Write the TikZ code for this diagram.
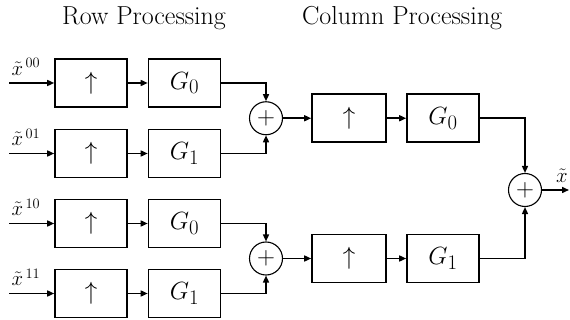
\documentclass[tikz,border=0pt]{standalone}
\usepackage{fontspec}
\usetikzlibrary{arrows.meta}
\begin{document}
\begin{tikzpicture}[x=1pt,y=-1pt,
  blk/.style={draw,line width=1.6pt,minimum width=72pt,minimum height=48pt,inner sep=0pt},
  summer/.style={draw,circle,line width=1.1pt,minimum size=33pt,inner sep=0pt,
    font=\fontsize{25}{30}\selectfont},
  sig/.style={line width=1.5pt,-{Triangle[length=7pt,width=6pt]}},
  ttl/.style={font=\fontsize{26}{30}\selectfont},
  gain/.style={font=\fontsize{29}{34}\selectfont},
  upop/.style={font=\fontsize{26}{30}\selectfont},
  sigl/.style={font=\fontsize{21}{25}\selectfont,inner sep=0pt}]
\useasboundingbox (0,0) rectangle (570,320);

% titles
\node[ttl] (trow) at (144,18) {Row Processing};
\node[ttl] (tcol) at (402,18) {Column Processing};

% row processing: four branches
\foreach \i/\y/\g/\lab in {1/83/0/00, 2/153.5/1/01, 3/223.5/0/10, 4/293.5/1/11}{
  \coordinate (in\i) at (9,\y);
  \node[blk,upop] (u\i) at (91,\y) {$\uparrow$};
  \node[blk,gain] (g\i) at (184.5,\y) {$G_{\g}$};
  \node[sigl] (l\i) at (26,\y-16) {$\tilde{x}^{\,\lab}$};
  \draw[sig] (in\i) -- (u\i.west);
  \draw[sig] (u\i.east) -- (g\i.west);
}

% row summers
\node[summer] (s1) at (266,118.25) {$+$};
\node[summer] (s2) at (266,258.5) {$+$};
\draw[sig] (g1.east) -| (s1.north);
\draw[sig] (g2.east) -| (s1.south);
\draw[sig] (g3.east) -| (s2.north);
\draw[sig] (g4.east) -| (s2.south);

% column processing
\node[blk,upop,minimum width=74pt] (cu1) at (349,118.25) {$\uparrow$};
\node[blk,gain] (cg1) at (443,118.25) {$G_0$};
\node[blk,upop,minimum width=74pt] (cu2) at (349,258.5) {$\uparrow$};
\node[blk,gain] (cg2) at (443,258.5) {$G_1$};
\draw[sig] (s1.east) -- (cu1.west);
\draw[sig] (cu1.east) -- (cg1.west);
\draw[sig] (s2.east) -- (cu2.west);
\draw[sig] (cu2.east) -- (cg2.west);

% output summer
\node[summer] (s3) at (525,190) {$+$};
\draw[sig] (cg1.east) -| (s3.north);
\draw[sig] (cg2.east) -| (s3.south);
\coordinate (out) at (569,190);
\draw[sig] (s3.east) -- (out);
\node[sigl] (lout) at (562,176) {$\tilde{x}$};
\end{tikzpicture}
\end{document}
